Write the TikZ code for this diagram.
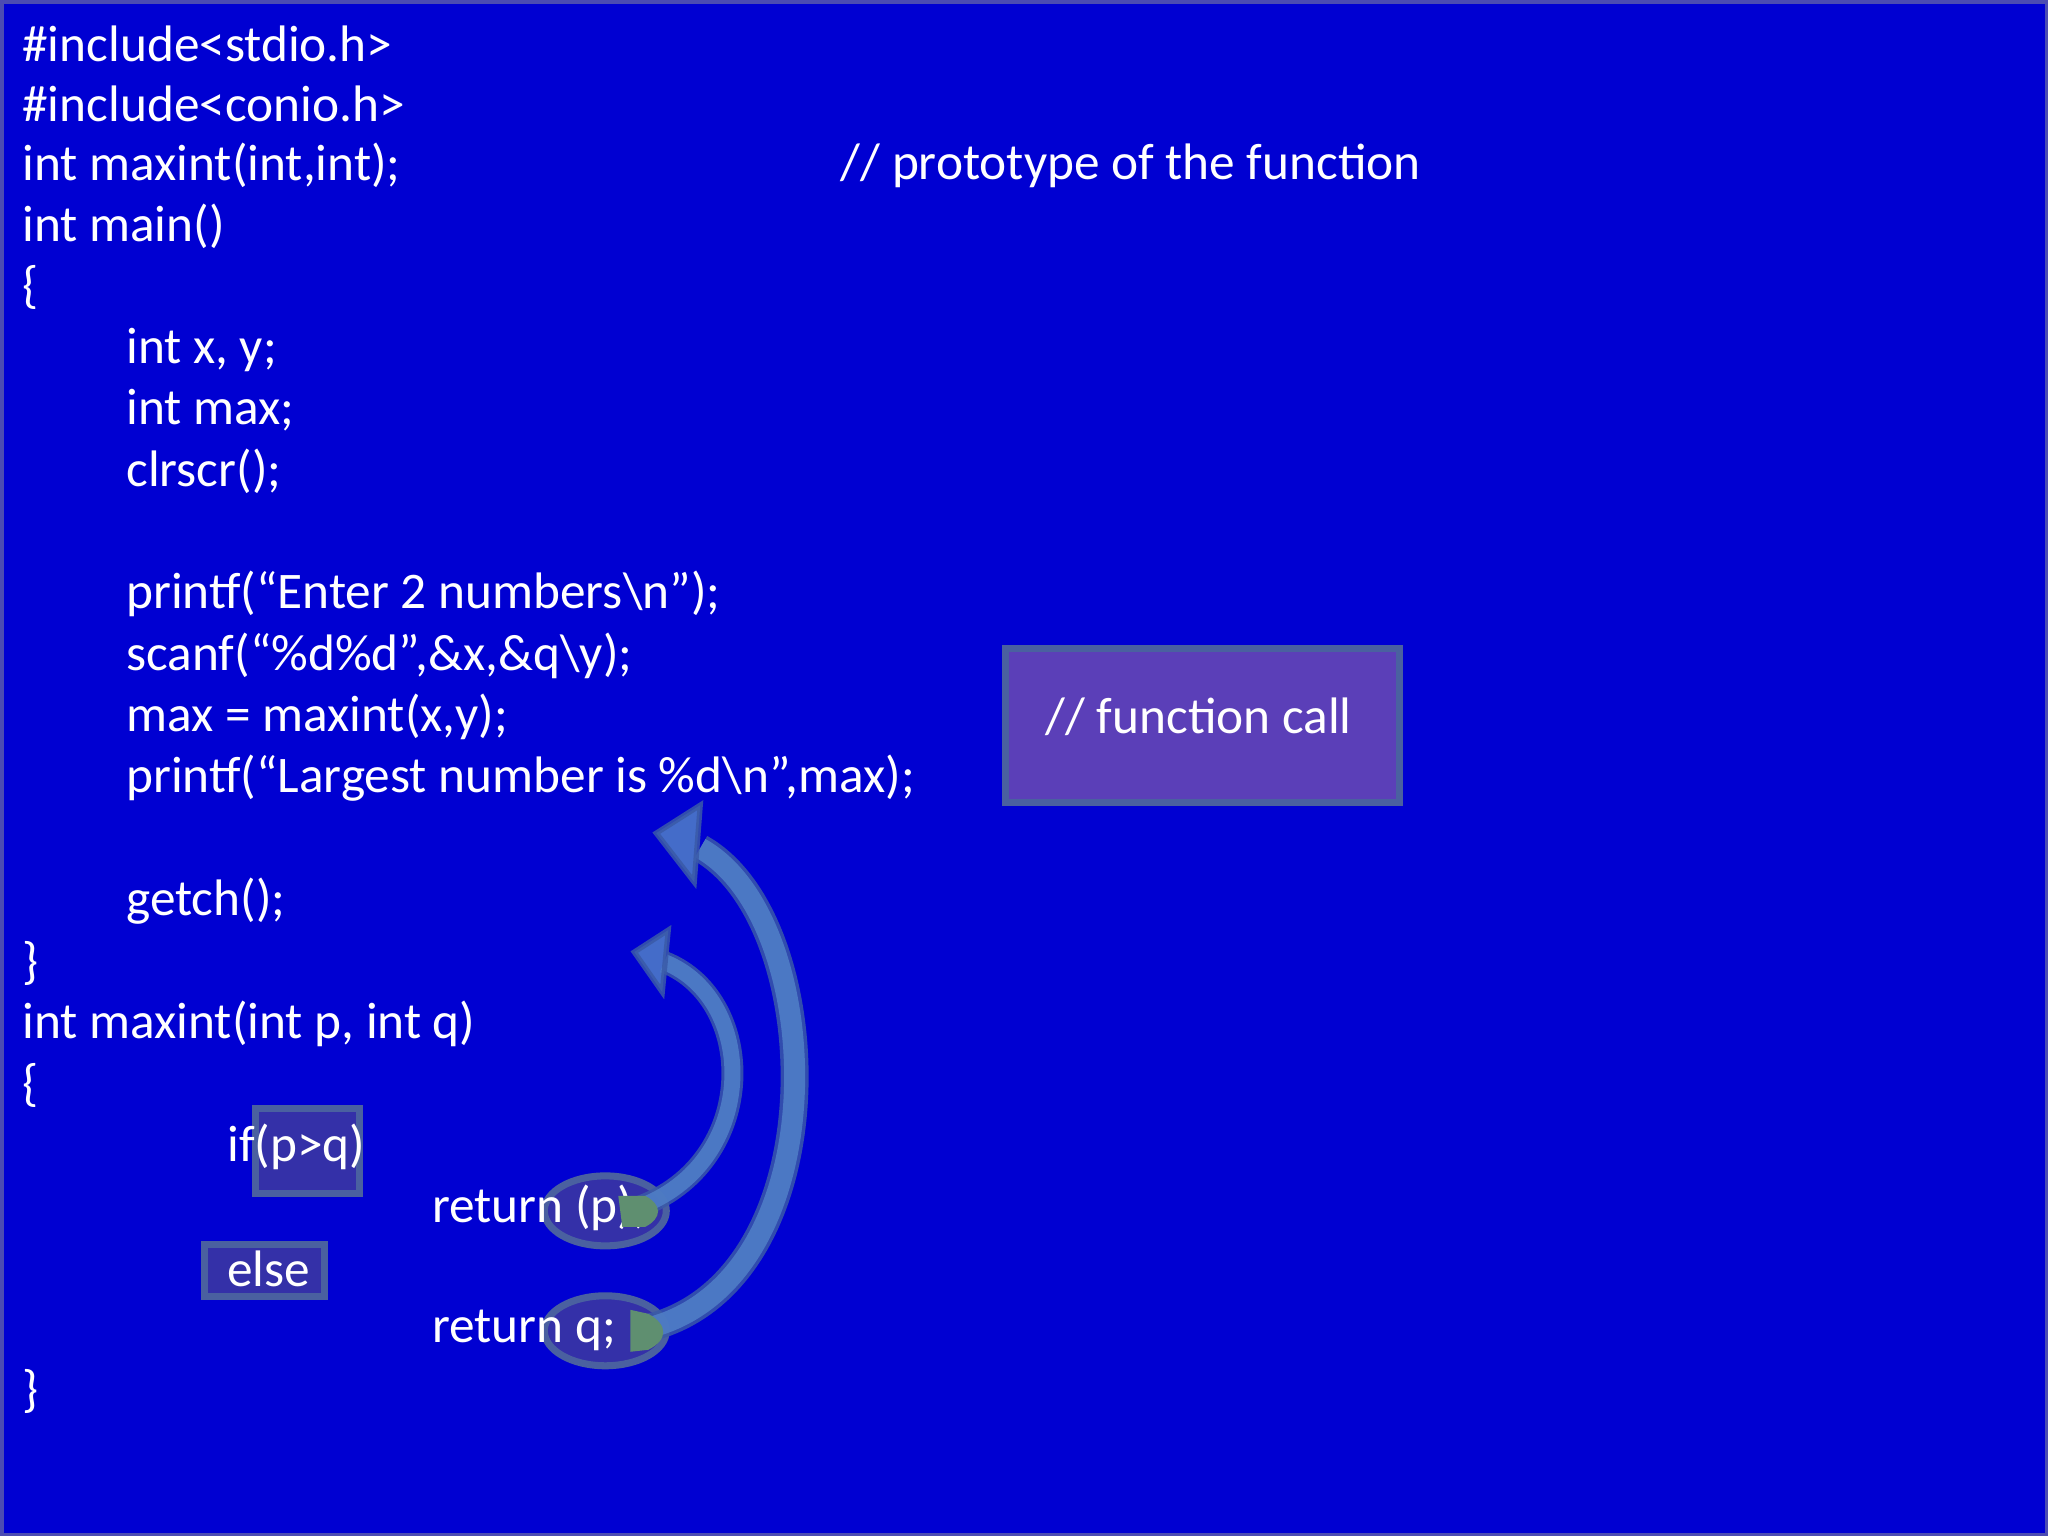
\documentclass[tikz,border=0pt]{standalone}
\usepackage{fontspec}
\usetikzlibrary{shapes.geometric}
\setmainfont{Carlito}
\begin{document}
\begin{tikzpicture}[x=0.01cm,y=-0.01cm,
  code/.style={anchor=west,text=white,font=\fontsize{14.6pt}{16pt}\selectfont,inner sep=0pt},
  arrbody/.style={draw=arrB,line width=#1},
  arrfill/.style={draw=arrF,line width=#1}]
\definecolor{bg}{HTML}{0000D2}
\definecolor{arrB}{HTML}{3A5AA8}
\definecolor{arrF}{HTML}{5080C8}
\definecolor{boxF}{HTML}{5B3FB8}
\definecolor{boxB}{HTML}{4A60A0}
\definecolor{hlF}{HTML}{3430A8}
\definecolor{grn}{HTML}{5F8F70}
\fill[bg] (0,0) rectangle (2048,1536);
\draw[gray!60!blue,line width=1pt] (1,1) rectangle (2047,1535);
% function call box
\node[draw=boxB,fill=boxF,line width=2pt,minimum width=3.94cm,minimum height=1.54cm,inner sep=0pt] (fc) at (1203,725) {};
\node[code] (fct) at (1045,717) {// function call};
% highlight boxes
\node[fill=hlF,draw=boxB,line width=2pt,minimum width=1.04cm,minimum height=0.85cm,inner sep=0pt] (ifb) at (307,1151) {};
\node[fill=hlF,draw=boxB,line width=2pt,minimum width=1.2cm,minimum height=0.52cm,inner sep=0pt] (elb) at (264,1271) {};
\node[ellipse,draw=boxB,fill=hlF,line width=2pt,minimum width=1.22cm,minimum height=0.7cm,inner sep=0pt] (e1) at (605,1211) {};
\node[ellipse,draw=boxB,fill=hlF,line width=2pt,minimum width=1.22cm,minimum height=0.7cm,inner sep=0pt] (e2) at (605,1331) {};
% code
\node[code] (l1) at (21,43) {\#include<stdio.h>};
\node[code] (l2) at (21,103) {\#include<conio.h>};
\node[code] (l3) at (21,165) {int maxint(int,int);};
\node[code] (l3c) at (840,165) {// prototype of the function};
\node[code] (l4) at (21,226) {int main()};
\node[code] (l5) at (21,287) {\{};
\node[code] (l6) at (125,349) {int x, y;};
\node[code] (l7) at (125,410) {int max;};
\node[code] (l8) at (125,471) {clrscr();};
\node[code] (l9) at (125,594) {printf(“Enter 2 numbers\textbackslash n”);};
\node[code] (l10) at (125,656) {scanf(“\%d\%d”,\&x,\&q\textbackslash y);};
\node[code] (l11) at (125,717) {max = maxint(x,y);};
\node[code] (l12) at (125,778) {printf(“Largest number is \%d\textbackslash n”,max);};
\node[code] (l13) at (125,901) {getch();};
\node[code] (l14) at (21,963) {\}};
\node[code] (l15) at (21,1024) {int maxint(int p, int q)};
\node[code] (l16) at (21,1085) {\{};
\node[code] (l17) at (226,1147) {if(p>q)};
\node[code] (l18) at (431,1208) {return (p);};
\node[code] (l19) at (226,1269) {else};
\node[code] (l20) at (431,1331) {return q;};
\node[code] (l21) at (21,1392) {\}};
% arrows
\coordinate (s1) at (630,1210);
\coordinate (h1) at (664,962);
\coordinate (s2) at (640,1330);
\coordinate (h2) at (700,848);
\begin{scope}[opacity=0.85]
\draw[arrbody=0.22cm] (s1) .. controls (760,1170) and (760,1000) .. (h1);
\draw[arrfill=0.16cm] (s1) .. controls (760,1170) and (760,1000) .. (h1);
\draw[arrbody=0.28cm] (s2) .. controls (840,1290) and (830,920) .. (h2);
\draw[arrfill=0.21cm] (s2) .. controls (840,1290) and (830,920) .. (h2);
\filldraw[fill=arrF,draw=arrB,line width=1.5pt] (634,952) -- (668,930) -- (662,992) -- cycle;
\filldraw[fill=arrF,draw=arrB,line width=1.5pt] (656,833) -- (700,805) -- (694,882) -- cycle;
\end{scope}
\fill[grn] (618,1196) -- (645,1196) .. controls (662,1205) and (662,1218) .. (645,1227) -- (622,1227) -- cycle;
\fill[grn] (630,1310) -- (648,1314) .. controls (668,1325) and (668,1340) .. (648,1350) -- (630,1352) -- cycle;
\end{tikzpicture}
\end{document}
